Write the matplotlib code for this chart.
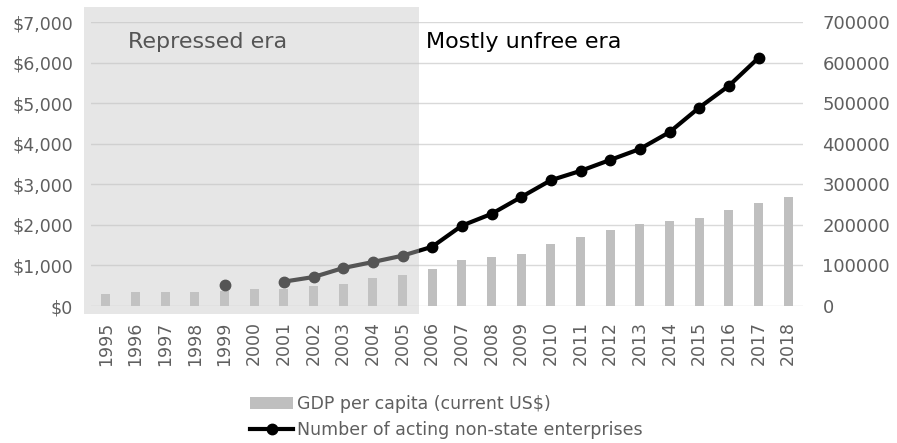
import numpy as np
import matplotlib
matplotlib.use("Agg")
import matplotlib.pyplot as plt
from matplotlib.patches import Rectangle
import matplotlib.transforms as mtransforms

# Data
years = list(range(1995, 2019))
gdp = [295, 345, 345, 345, 370, 420, 420, 493, 540, 690, 763,
       911, 1140, 1215, 1290, 1520, 1707, 1864, 2012, 2094, 2167,
       2357, 2545, 2693]
enterprises = [np.nan, np.nan, np.nan, np.nan, 51700, np.nan, 60000, 71400,
               93600, 108400, 124000, 146000, 198000, 227000, 268500,
               310000, 333000, 360000, 387000, 428500, 489000, 542600,
               611600, np.nan]

bar_color = "#bfbfbf"
text_gray = "#5f5f5f"
grid_color = "#d9d9d9"

fig = plt.figure(figsize=(8.97, 4.43), dpi=100)
ax = fig.add_axes([91 / 897, 1 - 306 / 443, 712 / 897, 284 / 443])
ax2 = ax.twinx()

x = np.arange(len(years))

# Bars on the left axis
ax.bar(x, gdp, width=0.31, color=bar_color, zorder=2,
       label="GDP per capita (current US$)")
ax.set_ylim(0, 7000)
ax.set_xlim(-0.5, len(years) - 0.5)
ax.set_yticks(np.arange(0, 7001, 1000))
ax.set_yticklabels(["${:,}".format(v) for v in range(0, 7001, 1000)])
ax.set_xticks(x)
ax.set_xticklabels([str(y) for y in years], rotation=90)
ax.yaxis.grid(True, color=grid_color, linewidth=1.0, zorder=0)
ax.set_axisbelow(True)

# Line on the right axis
ax2.plot(x, enterprises, color="black", linewidth=3, marker="o",
         markersize=7.5, zorder=3,
         label="Number of acting non-state enterprises")
ax2.set_ylim(0, 700000)
ax2.set_yticks(np.arange(0, 700001, 100000))
ax2.set_yticklabels([str(v) for v in range(0, 700001, 100000)])

for a in (ax, ax2):
    for s in a.spines.values():
        s.set_visible(False)
    a.tick_params(length=0, colors=text_gray)

ax.tick_params(axis="y", labelsize=12.5, pad=13)
ax.tick_params(axis="x", labelsize=12.5, pad=11)
ax2.tick_params(axis="y", labelsize=13, pad=14)

# Era labels
ax2.text(0.052, 0.908, "Repressed era", transform=ax2.transAxes,
         fontsize=16, color="black", zorder=5)
ax2.text(0.4705, 0.908, "Mostly unfree era", transform=ax2.transAxes,
         fontsize=16, color="black", zorder=5)

# Semi-transparent overlay for the repressed era
trans = mtransforms.blended_transform_factory(ax2.transData, ax2.transAxes)
ax2.add_patch(Rectangle((-0.74, -0.028), 10.55 + 0.74, 1.081,
                        transform=trans, facecolor=(198 / 255,) * 3,
                        alpha=0.43, edgecolor="none", zorder=10,
                        clip_on=False))

# Legend
h1, l1 = ax.get_legend_handles_labels()
h2, l2 = ax2.get_legend_handles_labels()
leg = fig.legend(h1 + h2, l1 + l2, loc="center left",
                 bbox_to_anchor=(250 / 897, 1 - 417 / 443),
                 frameon=False, fontsize=12.5, handlelength=2.5,
                 handletextpad=0.2, labelspacing=0.45, borderpad=0,
                 borderaxespad=0)
for t in leg.get_texts():
    t.set_color(text_gray)

fig.savefig("out.png", dpi=100)
